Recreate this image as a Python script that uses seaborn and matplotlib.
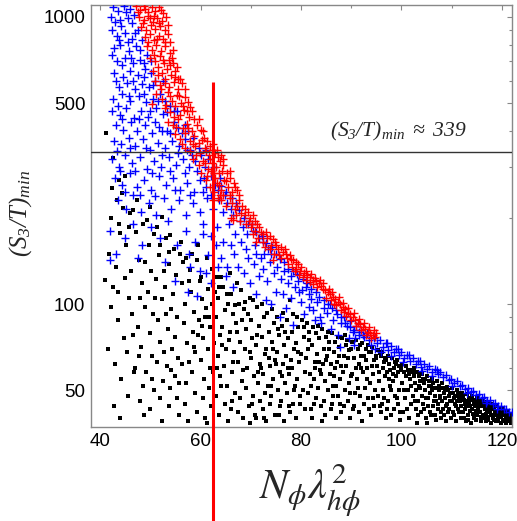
import matplotlib
matplotlib.use("Agg")
import matplotlib.pyplot as plt
import seaborn as sns
import pandas as pd
from matplotlib.ticker import FixedLocator, NullFormatter

# ---------------- data ----------------
black_pts = [
    (41.2,394),(42.6,323),(43.8,270),(42.4,254),(44.4,243),(44.6,216),(46.0,207),(46.6,213),(41.0,121),(42.6,115),
    (44.0,177),(41.8,150),(43.2,135),(45.1,160),(42.2,98),(43.5,88),(44.8,76),(41.6,70),(43.0,62),(44.2,55),
    (45.5,48),(42.8,44),(44.0,40),(45.8,105),(45.3,68),(46.2,130),(46.4,92),(46.8,58),(43.7,190),(45.7,185),
    (47.2,178),(47.8,142),(48.3,118),(48.9,98),(47.5,83),(48.1,71),(47.0,60),(48.6,52),(47.9,46),(48.8,41),
    (49.3,196),(49.8,160),(50.2,130),(49.5,110),(50.6,92),(49.9,79),(50.4,66),(49.2,58),(50.8,50),(50.0,43),
    (50.0,218),(51.3,185),(51.8,148),(51.1,122),(52.3,104),(51.6,88),(52.0,74),(51.4,63),(52.6,54),(51.9,47),
    (52.4,201),(52.4,39),(53.2,170),(53.7,138),(53.0,115),(54.1,96),(53.5,82),(54.4,70),(53.3,61),(54.0,51),
    (53.8,44),(54.0,174),(54.8,155),(55.2,126),(54.6,108),(55.4,90),(55.0,77),(55.6,65),(54.9,56),(55.3,47),
    (55.7,41),(52.8,130),(48.0,105),
    (56.1,165),(56.6,140),(56.3,118),(57.0,100),(56.8,86),(57.4,73),(56.4,62),(57.2,53),(56.9,45),(57.6,39),
    (58.0,131),(58.4,150),(58.2,110),(58.8,94),(58.5,80),(59.0,68),(58.3,58),(58.9,49),(59.3,42),(59.5,160),
    (59.8,120),(60.0,124),(60.3,104),(59.7,88),(60.5,76),(60.1,64),(60.7,55),(60.4,47),(60.9,40),(61.2,145),
    (61.5,113),(61.0,97),(61.8,83),(61.4,70),(61.9,60),(61.6,51),(62.0,44),(62.2,132),(57.8,120),(59.2,142),
    (60.8,90),(62.3,100),(62.6,73),(62.4,58),(61.3,38.5),
    (63.2,124),(63.5,105),(63.0,90),(63.8,78),(63.4,66),(63.9,56),(63.1,48),(63.7,41),(64.0,124),(64.5,115),
    (64.8,95),(64.3,83),(65.0,70),(64.6,61),(65.2,52),(64.9,45),(65.4,39),(65.8,128),(66.1,108),(66.5,92),
    (65.9,80),(66.7,68),(66.3,58),(66.9,49),(66.0,43),(67.2,118),(67.6,100),(67.0,86),(67.8,74),(67.4,63),
    (68.0,112),(68.2,54),(67.9,47),(68.5,40),(68.6,96),(69.0,82),(68.8,70),(69.3,60),(69.1,51),(69.6,44),
    (69.8,105),(70.0,88),(70.5,103),(70.3,76),(70.1,65),(70.6,56),(70.4,48),(70.8,41),(64.2,72),(66.4,63),
    (68.3,88),(69.5,92),(65.5,100),(67.5,42),(63.3,60),(69.9,38.5),
    (71.2,98),(71.6,84),(71.0,72),(71.8,62),(71.4,53),(71.9,46),(71.1,40),(72.3,100),(72.6,90),(72.2,77),
    (72.8,67),(72.5,57),(72.9,49),(72.4,43),(73.3,93),(73.6,80),(73.1,70),(73.8,61),(73.4,52),(73.9,45),
    (73.0,39),(74.2,96),(74.6,86),(74.3,74),(74.8,64),(74.5,55),(74.1,48),(74.9,41),(75.3,90),(75.6,78),
    (75.2,68),(75.8,58),(75.4,50),(75.9,44),(76.5,93),(76.2,84),(76.7,72),(76.4,62),(76.9,53),(76.1,46),
    (76.6,39),(77.8,103),(77.3,88),(77.5,76),(77.1,66),(77.7,57),(77.2,49),(77.9,42),(78.4,92),(78.2,80),
    (78.7,70),(78.3,60),(78.8,52),(78.5,45),(79.2,90),(79.5,83),(79.0,73),(79.6,63),(79.3,55),(79.8,48),
    (79.1,40),(80.2,88),(80.5,77),(80.1,67),(80.7,58),(80.4,50),(80.8,43),(71.5,58),(73.7,65),(75.1,62),
    (77.4,60),
    (81.2,86),(81.5,75),(81.0,65),(81.7,57),(81.3,49),(81.9,43),(82.4,83),(82.2,72),(82.7,63),(82.5,55),
    (82.9,47),(82.1,40),(83.3,84),(83.6,76),(83.1,67),(83.8,59),(83.4,51),(83.9,44),(84.2,82),(84.6,70),
    (84.3,62),(84.8,54),(84.5,46),(84.1,39),(85.3,80),(85.6,74),(85.1,66),(85.8,57),(85.4,50),(85.9,43),
    (86.2,79),(86.5,68),(86.7,60),(86.4,52),(86.1,45),(86.9,40),(87.3,77),(87.6,71),(87.1,63),(87.8,55),
    (87.4,48),(87.9,42),(88.2,76),(88.5,66),(88.3,58),(88.8,50),(88.6,44),(89.2,75),(89.5,69),(89.0,61),
    (89.6,53),(89.3,46),(89.8,40),(90.2,74),(90.5,65),(90.1,57),(90.7,49),(90.4,43),(81.6,80),(83.0,79),
    (85.0,77),(86.8,74),(88.9,72),(82.8,60),(84.9,64),(87.0,52),(89.9,56),
    (91.0,75),(91.3,70),(91.6,62),(91.2,55),(91.8,48),(91.5,42),(92.2,73),(92.5,66),(92.3,58),(92.8,51),
    (92.6,45),(92.1,39),(93.3,72),(93.6,68),(93.1,60),(93.8,53),(93.4,47),(93.9,41),(94.2,71),(94.5,64),
    (94.3,57),(94.8,50),(94.6,44),(95.3,69),(95.8,67.5),(95.1,61),(95.6,54),(95.4,48),(95.9,42),(96.2,68),
    (96.5,63),(96.7,56),(96.4,50),(96.1,45),(96.9,40),(97.3,66),(97.6,62),(97.1,58),(97.8,52),(97.4,46),
    (97.9,41),(98.2,65),(98.5,60),(98.3,54),(98.8,48),(98.6,43),(99.2,64),(99.5,61),(99.0,56),(99.6,50),
    (99.3,45),(99.8,39.5),(100.2,62),(100.5,58),(100.1,53),(100.7,47),(100.4,42),(91.9,66),(94.0,68),(96.0,66),
    (97.0,64),(98.9,62),(99.9,59),(93.0,64),(95.0,65),(97.5,55),
    (101.0,61),(101.3,59),(101.6,55),(101.2,50),(101.8,45),(101.5,40),(102.0,59),(102.3,58),(102.6,53),(102.2,48),
    (102.8,43),(103.1,58),(103.4,56),(103.7,51),(103.3,46),(103.9,42),(104.0,57),(104.3,55),(104.6,50),(104.2,45),
    (104.8,40),(105.1,56),(105.4,54),(105.7,49),(105.3,44),(105.9,41),(106.0,55),(106.3,53),(106.6,48),(106.2,44),
    (106.8,39.5),(107.1,54),(107.4,52),(107.7,47),(107.3,43),(107.9,40),(108.0,53),(108.3,51),(108.6,47),(108.2,43),
    (108.8,39),(109.0,51.4),(109.3,50),(109.6,46),(109.2,42),(109.8,40),(110.0,51),(110.3,49),(110.6,45),(110.2,42),
    (110.8,39),(101.4,57),(102.5,56),(103.6,54),(104.5,53),(105.5,52),(106.5,51),(107.5,50),(108.5,49),(109.5,48),
    (110.5,47),(102.9,50),(104.9,47),(106.9,46),(108.9,44),(103.0,38.5),(105.0,38.5),
    (111.0,50),(111.3,48.5),(111.6,46),(111.2,43),(111.8,40),(112.0,49),(112.3,48),(112.6,45),(112.2,42),(112.8,39),
    (113.1,48.5),(113.4,47),(113.7,44),(113.3,41),(113.9,38.5),(114.0,48),(114.3,46.5),(114.6,44),(114.2,41.5),(114.8,39.5),
    (115.1,47),(115.4,46),(115.7,46.3),(115.3,43),(115.9,40.5),(116.0,46.5),(116.3,45),(116.6,43),(116.2,41),(116.8,39),
    (117.1,45.5),(117.4,44.5),(117.7,42.5),(117.3,40.5),(117.9,38.5),(118.0,45),(118.3,44),(118.6,42),(118.2,40),(118.8,39),
    (119.1,44),(119.4,43),(119.7,41.5),(119.3,40),(119.9,38.5),(120.0,43.5),(120.3,42.5),(120.6,41),(120.2,39.5),(120.8,38.5),
    (121.1,42.5),(121.4,41.5),(121.7,40),(121.3,39),(121.9,38.5),(122.0,41.5),(111.5,47.5),(112.5,46.5),(113.5,45.5),(114.5,45),
    (115.5,44.5),(116.5,44),(117.5,43.5),(118.5,43),(119.5,42),(120.5,41.5),(121.5,40.5),(112.9,44),(114.9,42.5),(116.9,41.5),
    (118.9,41),(120.9,40),
    (80.6,83),(81.4,70),(82.0,52),(82.6,45),(83.5,63),(84.0,57),(84.7,41),(85.5,70),(86.0,62),(86.3,48),
    (86.6,56),(87.5,66),(87.7,45),(88.0,61),(88.7,78),(89.4,65),(89.7,49),(90.0,70),(90.9,60),(90.6,44),
    (91.4,51),(91.7,72),(92.0,60),(92.9,70),(93.2,55),(93.5,43),(94.1,61),(94.4,47),(94.9,66),(95.5,58),
    (95.7,44),(96.3,60),(96.6,47),(96.8,65),(97.7,59),(97.2,43),(98.0,50),(98.4,57),(98.7,63),(99.1,47),
    (99.4,58),(99.7,42),(100.0,60),(100.6,50),(100.9,56),(101.1,43),(101.9,52),(102.4,60),(102.7,46),(103.2,41),
    (103.5,52),(103.8,57),(104.1,48),(104.4,43),(104.7,55),(105.2,47),(105.6,42),(105.8,52),(106.1,50),(106.4,46),
    (106.7,41),(107.0,51),(107.2,45),(107.6,48),(107.8,42),(108.1,46),(108.4,41),(108.7,50),(109.1,45),(109.4,43),
    (109.7,49),(110.1,46),(110.4,41),(110.7,48),(110.9,44),(111.1,46),(111.4,42),(111.7,49),(111.9,44),(112.1,47),
    (112.4,40),(112.7,43),(113.0,46),(113.2,39.5),(113.6,42.5),(113.8,47),(114.1,43),(114.4,40),(114.7,46),(115.0,41),
    (115.2,45),(115.6,42),(115.8,39),(116.1,44),(116.4,40),(116.7,45.5),(117.0,42),(117.2,39.5),(117.6,45),(117.8,41),
    (118.1,43),(118.4,39.5),(118.7,41.5),(119.0,42.5),(119.2,39),(119.6,43.5),(119.8,40.5),(120.1,41.5),(120.4,39),(120.7,42),
    (121.0,41),(121.2,39.8),(121.6,41),(121.8,39.2),
    (42.1,200),(43.3,230),(45.0,280),(47.3,230),(48.5,190),(50.8,175),(52.0,160),(53.8,152),(55.9,150),(57.2,145),
    (49.0,140),(51.0,105),(53.1,92),(44.9,123),(43.6,110),(46.5,78),(47.7,66),(50.3,55),(52.7,68),(54.2,59),
    (55.8,53),(57.8,63),(58.7,71),(59.5,78),(60.2,84),(61.7,90),(62.8,110),(63.6,115),(65.3,108),(66.8,99),
    (68.9,102),(67.3,80),(65.6,75),(64.1,52),(66.2,46),(68.4,59),(69.9,68),(71.3,78),(72.1,60),(74.4,70),
    (75.5,82),(76.8,80),(78.0,64),(79.4,68),(74.0,52),(76.3,56),(78.6,50),(70.2,45),(72.7,40),(75.6,41),
    (77.6,44),(79.9,45),
]

blue_pts = [
    (42.5,1080),(43.6,1050),(44.8,1090),(46.0,1070),(42.9,960),(44.2,930),(45.5,990),(46.8,1020),(43.4,860),(45.0,880),
    (46.3,840),(47.6,900),(42.7,780),(44.0,800),(45.8,760),(47.2,790),(48.4,830),(43.3,700),(44.9,720),(46.5,690),
    (48.0,710),(49.3,740),(42.8,640),(44.5,620),(45.9,650),(47.5,630),(49.0,660),(50.2,640),(43.8,570),(45.3,590),
    (46.9,560),(48.3,585),(49.7,570),(51.0,600),(42.6,520),(44.3,540),(46.0,510),(47.8,530),(49.2,505),(50.6,520),
    (52.0,540),(53.0,510),
    (42.4,470),(43.9,455),(45.2,480),(46.7,445),(48.1,470),(49.6,450),(51.2,480),(52.6,460),(54.0,490),(54.8,470),
    (43.1,420),(44.6,405),(46.1,430),(47.4,400),(48.9,420),(50.3,395),(51.8,415),(53.3,400),(54.7,430),(55.6,410),
    (56.3,395),(42.8,370),(44.1,360),(45.7,380),(47.0,355),(48.6,375),(50.0,345),(51.5,365),(53.0,350),(54.4,370),
    (55.8,355),(57.0,375),(58.0,345),(57.6,400),
    (42.3,320),(43.7,300),(45.0,330),(46.4,310),(47.9,325),(49.3,295),(50.8,315),(52.2,300),(53.7,325),(55.1,305),
    (56.5,320),(57.8,300),(59.0,315),(60.0,330),(60.8,300),(61.5,320),(43.0,275),(44.4,260),(45.9,285),(47.3,255),
    (48.8,270),(50.2,250),(51.7,280),(53.2,260),(54.6,275),(56.0,250),(57.4,265),(58.7,245),(59.9,270),(61.0,255),
    (62.0,280),(62.8,260),(63.5,250),(43.6,230),(45.1,215),(46.6,240),(48.2,210),(49.7,225),(51.2,205),(52.7,235),
    (54.2,215),(55.7,230),(57.1,205),(58.5,225),(59.8,210),(61.2,235),(62.4,215),(63.6,230),(64.5,210),(65.3,225),
    (66.0,215),(66.5,205),(64.8,240),
    (42.0,180),(43.2,150),(44.9,170),(46.5,190),(48.4,160),(50.1,185),(51.9,170),(53.6,195),(55.4,160),(57.2,180),
    (58.9,165),(60.5,190),(62.0,172),(63.2,185),(64.4,165),(65.6,190),(66.8,175),(67.8,195),(68.5,185),(69.3,175),
    (70.2,190),(68.0,165),(70.8,160),(71.6,170),(72.5,165),(73.4,155),(71.1,150),(72.0,145),(74.0,150),(42.0,142),
    (47.5,145),(53.0,140),(57.8,150),(61.5,148),(64.0,145),(66.7,150),(69.5,145),
    (55.0,120),(57.5,110),(59.3,107),(59.9,130),(62.0,118),(63.5,135),(65.0,125),(66.5,115),(67.5,135),(68.7,128),
    (69.8,118),(70.6,138),(71.6,125),(72.4,132),(73.2,120),(73.9,140),(74.6,128),(75.3,135),(76.0,122),(76.7,130),
    (77.4,118),(78.1,125),(78.8,115),(79.5,120),(80.2,112),(71.0,108),(73.0,103),(75.0,110),(76.5,108),(78.0,105),
    (79.7,110),(81.0,115),(81.6,108),(75.9,90),(74.0,100),(77.0,97),(80.0,102),(82.0,104),
    (78.4,84.5),(80.5,92),(81.5,98),(82.4,95),(83.2,102),(83.8,90),(84.5,97),(85.2,93),(85.8,100),(86.4,88),
    (87.0,95),(87.8,70.8),(86.0,82),(88.0,86),(88.5,90),(89.2,84),(89.8,87),(90.4,80),(91.0,84),(91.5,78),
    (92.0,81),(84.0,86),(82.8,88),(87.3,78),(89.5,76),(90.8,76),(92.5,77),(93.2,79),
    (93.5,75),(94.0,72),(94.6,76),(95.2,73),(95.8,75),(96.3,71),(96.9,73),(97.4,69),(97.9,71.5),(98.5,68),
    (99.0,70),(99.5,66.5),(100.0,68),(100.6,65),(101.1,66.5),(101.7,63.5),(102.3,65),(102.8,62),(103.3,63.5),(103.9,60.5),
    (104.4,62),(105.0,59.5),(105.5,61),(106.1,58),(106.6,59.5),(107.2,57),(107.7,58),(108.3,55.5),(108.8,56.5),(109.4,54.2),
    (109.9,55),(110.5,53),(111.0,53.8),(111.6,51.8),(112.1,52.3),(112.7,50.5),(113.2,51),(113.8,49.5),(114.3,49.8),(114.9,48.2),
    (115.4,48.6),(116.0,47.2),(116.5,47.5),(117.1,46),(117.6,46.4),(118.2,45),(118.7,45.3),(119.3,44),(119.8,44.3),(120.4,43),
    (120.9,43.2),(121.5,42.2),(122.0,42),(96.0,68),(98.0,66),(100.3,63),(104.0,58.5),(106.0,56),(110.0,52),(113.0,49),
    (116.8,45.2),(119.0,43),(94.8,70),(97.2,73),(99.3,70),(101.5,66.5),(103.6,63.5),(107.0,59),(90.5,72),
    (42.2,1000),(43.9,980),(45.2,1040),(46.4,950),(47.0,880),(42.3,900),(43.7,830),(45.6,820),(47.9,770),(42.4,740),
    (44.3,680),(46.1,720),(48.7,690),(50.1,700),(43.1,600),(46.5,600),(48.8,620),(50.5,580),(52.5,600),(43.5,490),
    (45.8,530),(48.7,540),(50.0,470),(51.6,510),(53.4,465),(55.3,470),(44.4,440),(47.8,440),(50.9,430),(52.4,400),
    (54.0,395),(56.9,420),(58.5,380),(59.6,350),(43.4,340),(46.0,350),(49.1,350),(52.3,330),(55.6,335),(57.3,345),
    (58.4,330),(61.0,345),(44.0,290),(47.0,290),(50.4,285),(53.9,290),(57.0,285),(59.2,290),(60.6,275),(62.7,300),
    (63.9,275),(45.0,245),(48.0,240),(51.0,238),(54.9,250),(58.0,240),(60.4,245),(62.0,240),(64.0,258),(65.0,245),
    (66.3,235),(67.0,225),(67.6,212),(68.7,200),(69.4,190),(70.4,180),(71.0,178),(72.2,172),(73.0,163),(74.3,158),
    (75.0,150),(75.8,143),(76.6,140),(77.5,133),(78.4,130),(79.2,127),(80.4,122),(81.2,118),(82.0,113),(82.9,110),
    (83.6,106),(84.5,103),(85.4,100),(86.2,97),(87.1,92),(88.0,90),(88.8,86),(89.8,83),(90.6,81),(91.5,80),
    (92.4,78),(60.5,175),(63.0,160),(66.0,160),(69.0,155),(72.6,150),(65.2,135),(61.0,128),(58.0,135),
]

red_pts = [
    (47.2,1090),(48.0,1060),(48.8,1095),(49.5,1040),(50.3,1080),(51.0,1050),(51.8,1085),(52.6,1030),(47.8,1000),(48.7,980),
    (49.6,1010),(50.5,960),(51.4,990),(52.3,970),(53.2,1000),(48.2,920),(49.2,900),(50.1,940),(51.0,910),(52.0,930),
    (53.0,900),(48.9,850),(49.9,870),(50.8,830),(51.7,860),(52.6,840),(53.5,870),(54.0,820),(49.3,790),(50.3,770),
    (51.2,800),(52.1,760),(53.0,790),(53.9,750),(54.4,720),(50.0,720),(51.0,700),(51.9,730),(52.8,690),(53.7,710),
    (54.5,690),(50.6,650),(51.5,670),(52.4,640),(53.3,660),(54.2,630),(55.0,650),(55.5,610),(51.0,600),(52.0,580),
    (52.9,610),(53.8,570),(54.7,595),(55.6,560),(56.3,590),(51.2,540),(52.4,520),(53.5,550),(54.4,510),(55.3,535),
    (56.2,500),(57.0,525),(57.6,505),(50.3,497),(52.9,480),(54.0,465),(55.0,490),(55.9,455),(56.8,475),(57.7,450),
    (58.3,470),(58.8,440),
    (53.5,430),(54.6,420),(55.5,440),(56.5,410),(57.4,425),(58.3,400),(59.2,420),(60.0,405),(60.5,400),(55.0,390),
    (56.0,375),(57.0,395),(57.9,370),(58.8,385),(59.7,365),(60.6,380),(61.3,370),(61.8,355),(57.0,350),(58.0,340),
    (59.0,355),(59.9,335),(60.8,350),(61.6,330),(62.3,345),(62.8,335),(63.5,325),(64.0,330),
    (58.5,320),(59.6,305),(60.5,315),(61.4,295),(62.2,310),(63.0,300),(63.8,315),(64.4,305),(60.0,285),(61.0,270),
    (62.0,290),(62.9,275),(63.7,285),(64.6,270),(65.3,285),(65.8,275),(61.8,255),(62.7,245),(63.6,260),(64.5,240),
    (65.4,255),(66.2,245),(66.8,255),(67.2,250),(62.5,230),(63.5,235),
    (64.0,230),(65.0,220),(65.9,235),(66.8,215),(67.6,230),(68.3,220),(68.9,215),(66.0,200),(67.0,205),(67.9,195),
    (68.8,205),(69.6,195),(70.4,205),(70.8,195),(66.5,196),
    (69.0,190),(70.0,185),(70.9,180),(71.7,185),(72.5,175),(73.1,178),(70.5,175),(71.5,170),(72.4,165),(73.3,170),
    (74.1,160),(74.8,165),(75.4,155),(76.0,158),(72.8,158),(73.8,155),(74.7,150),(75.6,148),(76.5,152),(77.2,145),
    (77.8,148),(78.5,142),(79.0,140),(74.5,142),(76.0,145),
    (77.5,138),(78.3,135),(79.1,133),(79.8,130),(80.5,128),(81.2,126),(81.8,124),(82.4,121),(83.0,120),(83.6,118),
    (78.8,130),(79.6,126),(80.3,124),(81.0,121),(81.7,119),(82.3,117),(83.1,115),(84.0,116),(84.4,113),
    (84.8,112),(85.3,110),(85.8,108),(86.3,106),(86.8,104),(87.3,102),(87.8,100),(88.3,98),(88.8,96),(89.3,93),
    (89.8,92),(90.3,90),(90.8,88),(91.3,86),(91.8,85),(92.3,83),(92.8,82),(93.3,80),(93.8,79),(94.3,78),
    (94.8,77),(85.0,105),(86.0,103),(87.0,99),(88.0,95),(89.0,91),(90.0,88),(91.0,84),(92.0,81),(93.0,78),
    (94.0,76),(86.5,100),(88.5,94),
    (47.5,1040),(49.0,1070),(50.8,1010),(52.2,1060),(48.5,950),(50.0,990),(51.8,950),(53.6,940),(49.6,820),(51.3,840),
    (52.9,815),(54.6,770),(50.7,740),(52.5,710),(54.0,680),(55.3,670),(51.6,630),(53.0,590),(54.9,620),(56.0,610),
    (52.2,560),(53.9,530),(55.8,530),(56.9,560),(53.2,495),(54.8,450),(56.6,490),(57.4,470),(58.0,485),(55.2,415),
    (57.6,410),(59.6,440),(56.3,360),(58.6,360),(60.2,372),(61.1,340),(62.5,360),(59.1,330),(61.9,320),(63.3,345),
    (64.4,320),(60.9,310),(62.6,285),(64.3,290),(65.9,290),(61.2,280),(63.2,265),(65.0,268),(66.6,265),(64.1,250),
    (65.8,240),(67.6,240),(63.9,240),(66.3,225),(68.0,208),(69.4,210),(67.2,220),(69.8,200),(70.3,190),(71.3,190),
    (72.0,178),(73.8,172),(74.4,168),(71.0,165),(75.0,160),(76.9,155),(77.0,150),(78.0,144),(79.5,138),(80.0,135),
    (80.9,130),(82.0,127),(82.8,123),(83.8,121),(84.3,118),(85.5,113),(86.2,110),(87.5,106),(88.4,101),(89.4,97),
    (90.5,93),(91.6,89),(92.5,86),(93.6,83),(94.5,81),(95.0,79),
]

threshold_y = 339          # horizontal line value
threshold_x = 62.5         # vertical red line position
vline_top = 594            # top of the vertical red line
x_ticks = [40, 60, 80, 100, 120]
y_ticks = [50, 100, 500, 1000]
y_minor = [40, 60, 70, 80, 90, 200, 300, 400, 600, 700, 800, 900]
annot_text = r"$(S_3/T)_{min}\ \approx\ 339$"
ylabel_text = r"$(S_3/T)_{min}$"
xlabel_text = r"$N_{\phi}\lambda^{2}_{h\phi}$"

# ---------------- figure ----------------
sns.set_style("white")
plt.rcParams["font.family"] = ["Liberation Sans", "DejaVu Sans"]
plt.rcParams["mathtext.fontset"] = "custom"
plt.rcParams["mathtext.rm"] = "Liberation Serif:italic"
plt.rcParams["mathtext.it"] = "Liberation Serif:italic"
plt.rcParams["mathtext.bf"] = "Liberation Serif:bold"

W, H = 517, 521
fig = plt.figure(figsize=(W / 100, H / 100), dpi=100)
ax = fig.add_axes([91 / W, 1 - 427 / H, 421 / W, 422 / H])

def frame(pts):
    return pd.DataFrame(pts, columns=["x", "y"])

dk, db, dr = frame(black_pts), frame(blue_pts), frame(red_pts)

sns.scatterplot(data=dk, x="x", y="y", marker="s", s=6, color="black",
                linewidth=0, ax=ax, zorder=2)
sns.scatterplot(data=db, x="x", y="y", marker="+", s=34, color="blue",
                linewidth=1.0, ax=ax, zorder=3)
sns.scatterplot(data=dr, x="x", y="y", marker="+", s=34, color="red",
                linewidth=1.0, ax=ax, zorder=4)

ax.set_yscale("log")
ax.set_xlim(38.2, 122.0)
ax.set_ylim(37.3, 1101)

ax.axhline(threshold_y, color="#333333", lw=1.0, zorder=5)
ax.plot([threshold_x, threshold_x], [vline_top, 12], color="red", lw=2.2,
        clip_on=False, zorder=6, solid_capstyle="butt")

ax.set_xticks(x_ticks)
ax.set_xticklabels([str(v) for v in x_ticks])
ax.xaxis.set_minor_locator(FixedLocator([50, 70, 90, 110]))
ax.set_yticks(y_ticks)
ax.set_yticklabels([str(v) for v in y_ticks])
ax.yaxis.set_minor_locator(FixedLocator(y_minor))
ax.yaxis.set_minor_formatter(NullFormatter())

ax.tick_params(which="both", direction="in", top=True, right=True,
               color="#888888", labelsize=13.5, labelcolor="black", pad=4)
ax.tick_params(which="major", length=3.5, width=0.8)
ax.tick_params(which="minor", length=2.2, width=0.8)
for sp in ax.spines.values():
    sp.set_color("#888888")
    sp.set_linewidth(1.0)

ax.set_xlabel("")
ax.set_ylabel("")

ax.text(0.729, 0.70, annot_text, transform=ax.transAxes, ha="center",
        va="center", fontsize=15.5)
fig.text(21 / W, 1 - 213 / H, ylabel_text, rotation=90, ha="center",
         va="center", fontsize=18)
fig.text(310 / W, 1 - 490 / H, xlabel_text, ha="center", va="center",
         fontsize=30, math_fontfamily="stix")

fig.savefig("out.png", dpi=100)
